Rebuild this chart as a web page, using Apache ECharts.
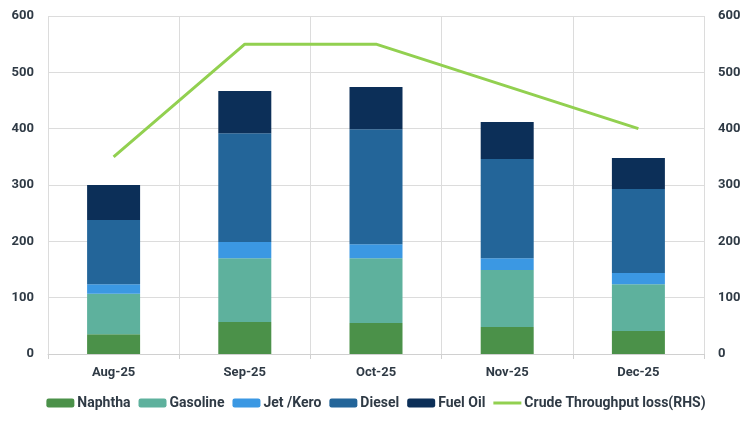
<!DOCTYPE html>
<html><head><meta charset="utf-8">
<script src="https://cdn.jsdelivr.net/npm/echarts@6/dist/echarts.min.js"></script>
<style>html,body{margin:0;padding:0;background:#fff}#c{width:752px;height:425px}</style>
</head><body><div id="c"></div>
<script>
const categories = ['Aug-25','Sep-25','Oct-25','Nov-25','Dec-25'];
const naphtha  = [35, 57, 55, 48, 41];
const gasoline = [72, 113, 115, 101, 83];
const jetKero  = [17, 29, 25, 21, 20];
const diesel   = [114, 193, 204, 176, 149];
const fuelOil  = [62, 75, 75, 66, 55];
const crudeLoss = [350, 550, 550, 475, 400];
const axisTicks = [0, 100, 200, 300, 400, 500, 600];

const txt = '#2f3a45';
const chart = echarts.init(document.getElementById('c'));
function bar(name, data, color){
  return {name, type:'bar', stack:'p', data, barWidth:53,
    itemStyle:{color}, emphasis:{disabled:true}};
}
const yAx = (pos) => ({
  type:'value', position:pos, min:axisTicks[0], max:axisTicks[axisTicks.length-1], interval:100,
  axisLine:{show:false}, axisTick:{show:false},
  axisLabel:{color:txt, fontSize:13, fontWeight:'bold', fontFamily:'Roboto', margin:14},
  splitLine:{show: pos==='left', lineStyle:{color:'#dcdcdc', width:1}}
});
chart.setOption({
  animation:false,
  grid:{left:48, right:48, top:16, bottom:71},
  legend:{bottom:10, left:'center', itemWidth:28, itemHeight:9, itemGap:8,
    textStyle:{color:txt, fontSize:14, fontWeight:'bold', fontFamily:'Roboto', padding:[0,0,0,-2]},
    data:['Naphtha','Gasoline','Jet /Kero','Diesel','Fuel Oil',
      {name:'Crude Throughput loss(RHS)', icon:'path://M0,0 H28 V3 H0 Z'}]},
  xAxis:{type:'category', data:categories,
    axisLine:{lineStyle:{color:'#d0d0d0'}},
    axisTick:{show:true, length:5, lineStyle:{color:'#d0d0d0'}},
    axisLabel:{color:txt, fontSize:13, fontWeight:'bold', fontFamily:'Roboto', margin:12},
    splitLine:{show:true, lineStyle:{color:'#dcdcdc'}}},
  yAxis:[yAx('left'), yAx('right')],
  series:[
    bar('Naphtha', naphtha, '#4b9149'),
    bar('Gasoline', gasoline, '#5eb19d'),
    bar('Jet /Kero', jetKero, '#3b98e3'),
    bar('Diesel', diesel, '#236599'),
    bar('Fuel Oil', fuelOil, '#0c2f58'),
    {name:'Crude Throughput loss(RHS)', type:'line', yAxisIndex:1, data:crudeLoss,
     symbol:'none', lineStyle:{color:'#92d050', width:3}, itemStyle:{color:'#92d050'}}
  ]
});
</script></body></html>
